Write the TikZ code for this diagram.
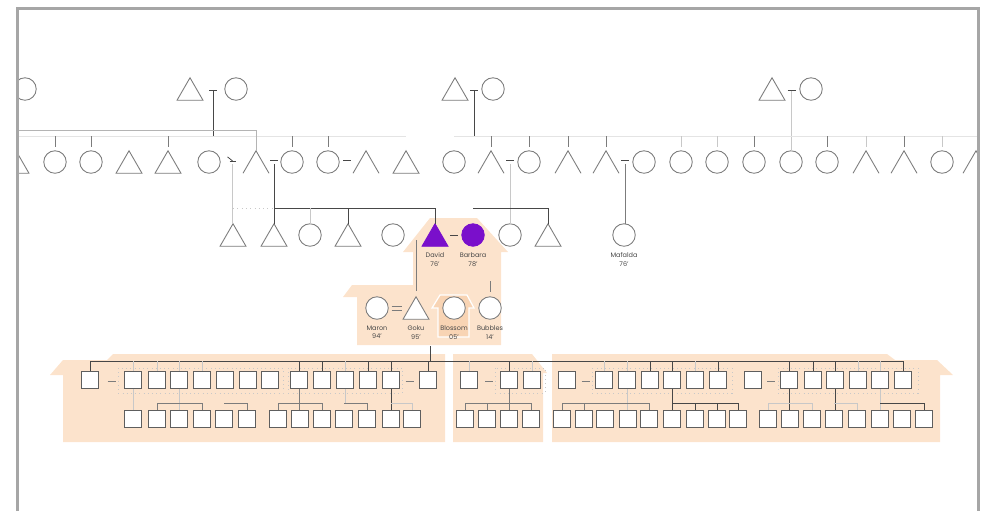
\documentclass[tikz,border=0pt]{standalone}
\usepackage{fontspec}
\setmainfont{Poppins}
\usetikzlibrary{shapes.geometric,positioning,calc}

\definecolor{peach}{HTML}{FCE3CC}
\definecolor{peachdk}{HTML}{F8D4B4}
\definecolor{royal}{HTML}{7A0FCB}
\definecolor{ink}{HTML}{7C7C7C}
\definecolor{inksq}{HTML}{5E5E5E}
\definecolor{inkdk}{HTML}{474747}
\definecolor{inklt}{HTML}{C8C8C8}
\definecolor{rim}{HTML}{A6A6A6}

\tikzset{
  circ/.style={circle,draw=ink,fill=white,minimum size=0.45cm,inner sep=0pt,outer sep=0pt,line width=0.5pt},
  tri/.style={regular polygon,regular polygon sides=3,draw=ink,fill=white,minimum size=0.6cm,inner sep=0pt,outer sep=0pt,yshift=-0.075cm,line width=0.5pt},
  halftri/.style={tri,draw=none,fill=none},
  sq/.style={draw=inksq,fill=white,minimum size=0.35cm,inner sep=0pt,outer sep=0pt,line width=0.55pt},
  lbl/.style={font=\fontsize{3.7}{5}\selectfont,text=inkdk,align=center,inner sep=0pt},
  dk/.style={draw=inkdk,line width=0.45pt},
  md/.style={draw=ink,line width=0.45pt},
  lt/.style={draw=inklt,line width=0.45pt},
  dotbox/.style={draw=inklt,dotted,line width=0.4pt},
}

\begin{document}
\begin{tikzpicture}[x=0.02cm,y=-0.02cm]
\useasboundingbox (0,0) rectangle (989,511);
\coordinate (sib) at (0,136);
\coordinate (bar3) at (0,208);
\coordinate (bar5) at (0,361);
\coordinate (bar6) at (0,403);
\coordinate (edgeL) at (17,130);
\coordinate (edgeR) at (978,136);

\begin{scope}
\clip (17,0) rectangle (978,511);

% houses
\fill[peach] (430,218) -- (477,218) -- (508,252) -- (501,252) -- (501,345) -- (357,345)
  -- (357,297) -- (343,297) -- (352,285) -- (413,285) -- (413,252) -- (403,252) -- cycle;
\filldraw[fill=peachdk,draw=white,line width=0.7pt] (440,295) -- (467,295) -- (474,308) -- (469,308)
  -- (469,337) -- (438,337) -- (438,308) -- (432,308) -- cycle;
\fill[peach] (50,375) -- (63,360) -- (107,360) -- (113,354) -- (445,354) -- (445,442) -- (63,442) -- (63,375) -- cycle;
\fill[peach] (453,354) -- (532,354) -- (547,373) -- (543,373) -- (543,442) -- (453,442) -- cycle;
\fill[peach] (552,354) -- (887,354) -- (895,360) -- (937,360) -- (953,375) -- (940,375) -- (940,442) -- (552,442) -- cycle;

% dotted sibling boxes
\draw[dotbox] (118,368) rectangle (283,393);
\draw[dotbox] (288,368) rectangle (402,393);
\draw[dotbox] (495,368) rectangle (545,393);
\draw[dotbox] (592,368) rectangle (732,393);
\draw[dotbox] (778,368) rectangle (918,393);

% row 1
\node[circ] (a0) at (25,89) {};
\node[tri] (a1) at (190,89) {};
\node[circ] (a2) at (236,89) {};
\node[tri] (a3) at (455,89) {};
\node[circ] (a4) at (493,89) {};
\node[tri] (a5) at (772,89) {};
\node[circ] (a6) at (811,89) {};

% row 2
\foreach \x/\s [count=\i] in {16/tri,55/circ,91/circ,129/tri,168/tri,209/circ,256/halftri,292/circ,328/circ,366/halftri,
    406/tri,454/circ,491/halftri,529/circ,568/halftri,606/halftri,644/circ,681/circ,717/circ,754/circ,791/circ,
    827/circ,866/halftri,904/halftri,942/circ,976/halftri}
  \node[\s] (b\i) at (\x,162) {};
\foreach \i in {7,10,13,15,16,23,24,26}
  \draw[ink,line width=0.5pt] (b\i.corner 2) -- (b\i.corner 1) -- (b\i.corner 3);

% row 3
\node[tri] (d1) at (233,235) {};
\node[tri] (d2) at (274,235) {};
\node[circ] (d3) at (310,235) {};
\node[tri] (d4) at (348,235) {};
\node[circ] (d5) at (393,235) {};
\node[tri,fill=royal,draw=royal] (dv) at (435,235) {};
\node[circ,fill=royal,draw=royal] (bb) at (473,235) {};
\node[circ] (d8) at (510,235) {};
\node[tri] (d9) at (548,235) {};
\node[circ] (mf) at (624,235) {};

% row 4
\node[circ] (mr) at (377,308) {};
\node[tri] (gk) at (416,308) {};
\node[circ] (bl) at (454,308) {};
\node[circ] (bu) at (490,308) {};

% rows 5 and 6
\foreach \x [count=\i] in {90,133,157,179,202,225,248,270,299,322,345,368,391,428,469,509,532,
    567,604,627,650,672,695,718,753,789,813,835,858,880,903}
  \node[sq] (u\i) at (\x,380) {};
\foreach \x [count=\i] in {133,157,179,202,224,247,278,300,322,344,367,391,412,465,487,509,531,
    562,584,605,628,649,672,695,717,738,768,790,812,834,857,880,902,924}
  \node[sq] (v\i) at (\x,419) {};

% couples and descents, top
\coordinate (m1) at ($(a1)!.5!(a2)$);
\coordinate (m2) at ($(a3)!.5!(a4)$);
\coordinate (m3) at ($(a5)!.5!(a6)$);
\foreach \m in {m1,m2,m3}
  \draw[dk] (\m) +(-4,0) -- +(4,0);
\draw[dk] (m1) -- (m1 |- sib);
\draw[dk] (m2) -- (m2 |- sib);
\draw[lt] (m3) -- (m3 |- b21.north);
\draw[draw=inklt!50,line width=0.45pt] (edgeL |- sib) -- (b11.north |- sib);
\draw[draw=inklt!50,line width=0.45pt] (b12.north |- sib) -- (edgeR);
\draw[draw=inklt!90!black,line width=0.45pt] (edgeL) -| (b7.north);
\foreach \i in {2,3,5,8,9,13,14,15,16,20,22,24}
  \draw[md] (b\i.north |- sib) -- ([yshift=0.08cm]b\i.north);
\foreach \i in {18,19,23,25}
  \draw[lt] (b\i.north |- sib) -- ([yshift=0.08cm]b\i.north);

% couples and descents, row 2
\coordinate (c1) at ($(b6)!.5!(b7)$);
\coordinate (c2) at ($(b7)!.5!(b8)$);
\coordinate (c4) at ($(b13)!.5!(b14)$);
\coordinate (c5) at ($(b16)!.5!(b17)$);
\draw[dk] (c1) +(-3,-2) -- +(3,-2);
\draw[dk] (c1) +(-5,-7) -- +(0,-3);
\foreach \p/\q in {b7/b8,b9/b10,b13/b14,b16/b17}
  \draw[dk] ($(\p)!.5!(\q)$) +(-4,-3) -- +(4,-3);
\draw[lt] (c1) -- (c1 |- d1.north);
\draw[dk] (c2) -- (c2 |- d2.north);
\draw[lt] (c4) -- (c4 |- d8.north);
\draw[md] (c5) -- (c5 |- mf.north);

% row 3 bars
\draw[lt,dotted] (d1.north |- bar3) -- (d2.north |- bar3);
\draw[dk] (d2.north |- bar3) -| (dv.north);
\draw[lt] (d3.north |- bar3) -- (d3.north);
\draw[dk] (d4.north |- bar3) -- (d4.north);
\draw[dk] (bb.north |- bar3) -| (d9.north);
\draw[dk] ($(dv)!.5!(bb)$) +(-4,-1) -- +(4,-1);

% row 4
\coordinate (gtop) at (416,240);
\coordinate (btop) at (490,281);
\draw[md] (gtop) -- ([yshift=0.12cm]gk.north);
\draw[md] (btop) -- ([yshift=0.09cm]bu.north);
\draw[md] ($(mr)!.5!(gk)$) +(-5,-3) -- +(5,-3) +(-5,1) -- +(5,1);
\coordinate (gd) at (430,346);
\draw[dk] (gd) -- (gd |- bar5);

% grandchildren
\draw[dk] (u1.north |- bar5) -- (u31.north |- bar5);
\foreach \i in {1,9,10,12,13,14,16,21,22,24,26,27,28,31}
  \draw[dk] (u\i.north |- bar5) -- (u\i.north);
\foreach \i in {2,3,4,5,11,15,17,19,20,23,29,30}
  \draw[lt] (u\i.north |- bar5) -- (u\i.north);
\foreach \p/\q in {u1/u2,u13/u14,u15/u16,u18/u19,u25/u26}
  \draw[md] ($(\p)!.5!(\q)$) +(-4,1) -- +(4,1);
\foreach \a/\b/\c in {u2/v1/lt,u4/v3/lt,u9/v8/md,u13/v12/dk,u16/v16/md,u20/v21/lt,u22/v23/dk,u26/v28/dk,u28/v30/dk,u30/v32/lt}
  \draw[\c] (\a.south) -- (\a.south |- \b.north);
\draw[lt] (u11.south) -- (u11.south |- bar6);
\foreach \l/\r/\c in {v2/v4/md,v5/v6/md,v7/v9/md,v10/v11/md,v12/v13/lt,v14/v17/md,v18/v22/md,v23/v26/dk,v27/v29/lt,v30/v31/lt,v32/v34/dk}
  \draw[\c] (\l.north |- bar6) -| (\r.north);
\foreach \n/\c in {v2/md,v7/md,v14/md,v15/md,v18/md,v19/md,v24/dk,v25/dk,v27/lt}
  \draw[\c] (\n.north |- bar6) -- (\n.north);

% labels
\node[lbl,below=0.12cm of dv] (dvl) {David\\76'};
\node[lbl,below=0.12cm of bb] (bbl) {Barbara\\78'};
\node[lbl,below=0.12cm of mf] (mfl) {Mafalda\\76'};
\node[lbl,below=0.12cm of mr] (mrl) {Maron\\94'};
\node[lbl,below=0.12cm of gk] (gkl) {Goku\\95'};
\node[lbl,below=0.12cm of bl] (bll) {Blossom\\05'};
\node[lbl,below=0.12cm of bu] (bul) {Bubbles\\14'};
\end{scope}

% frame
\draw[rim,line width=0.06cm] (17,511) -- (17,8) -- (978,8) -- (978,511);
\end{tikzpicture}
\end{document}
